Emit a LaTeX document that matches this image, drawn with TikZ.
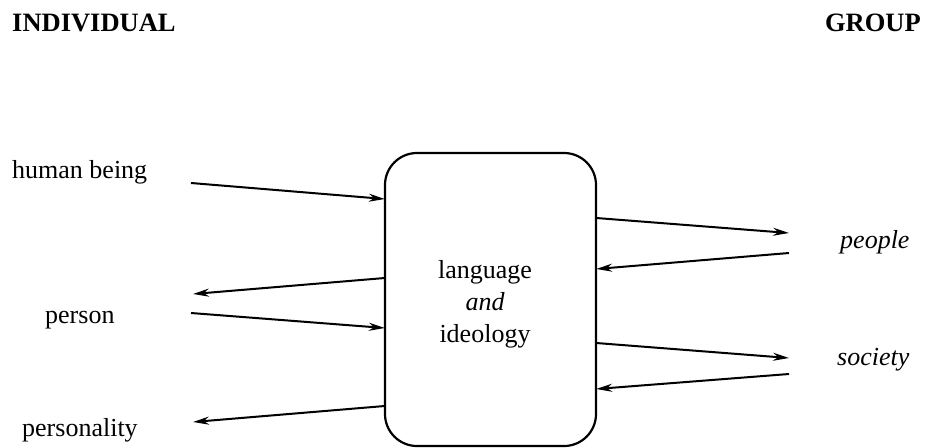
\documentclass[tikz,border=0pt]{standalone}
\usepackage{fontspec}
\setmainfont{Liberation Serif}
\usetikzlibrary{arrows.meta}
\begin{document}
\begin{tikzpicture}[x=1pt,y=-1pt,
  lbl/.style={font=\fontsize{26}{30}\selectfont, inner sep=0pt},
  head/.style={font=\fontsize{26.5}{30}\selectfont\bfseries, inner sep=0pt},
  arr/.style={line width=2pt, -{Stealth[length=16pt,width=8pt]}},
  bigbox/.style={draw, line width=2.2pt, rounded corners=32pt}]
\useasboundingbox (0,0) rectangle (925,447);
% headings
\node[head, anchor=base west] (ind) at (12,31) {INDIVIDUAL};
\node[head, anchor=base east] (grp) at (921,31) {GROUP};
% central box
\draw[bigbox] (385,153) rectangle (596,446);
\node[minimum width=211pt, minimum height=293pt, inner sep=0pt] (box) at (490.5,299.5) {};
\node[lbl, anchor=base] (l1) at (485,278) {language};
\node[lbl, anchor=base] (l2) at (485,310) {\itshape and};
\node[lbl, anchor=base] (l3) at (485,342) {ideology};
% left labels
\node[lbl, anchor=base west] (hb) at (12,178) {human being};
\node[lbl, anchor=base west] (pn) at (45,323) {person};
\node[lbl, anchor=base west] (pl) at (22,436) {personality};
% right labels
\node[lbl, anchor=base west] (pp) at (840,248) {\itshape people};
\node[lbl, anchor=base west] (so) at (837,365) {\itshape society};
% arrow end coordinates
\coordinate (a1) at (191,183);  \coordinate (b1) at (box.west |- 0,199);
\coordinate (b2) at (box.west |- 0,278); \coordinate (a2) at (193,294);
\coordinate (a3) at (191,313);  \coordinate (b3) at (box.west |- 0,328);
\coordinate (b4) at (box.west |- 0,406); \coordinate (a4) at (193,422);
\coordinate (c1) at (box.east |- 0,218); \coordinate (d1) at (789,233);
\coordinate (d2) at (789,253); \coordinate (c2) at (box.east |- 0,269);
\coordinate (c3) at (box.east |- 0,343); \coordinate (d3) at (789,358);
\coordinate (d4) at (789,374); \coordinate (c4) at (box.east |- 0,389);
% arrows
\draw[arr] (a1) -- (b1);
\draw[arr] (b2) -- (a2);
\draw[arr] (a3) -- (b3);
\draw[arr] (b4) -- (a4);
\draw[arr] (c1) -- (d1);
\draw[arr] (d2) -- (c2);
\draw[arr] (c3) -- (d3);
\draw[arr] (d4) -- (c4);
\end{tikzpicture}
\end{document}
